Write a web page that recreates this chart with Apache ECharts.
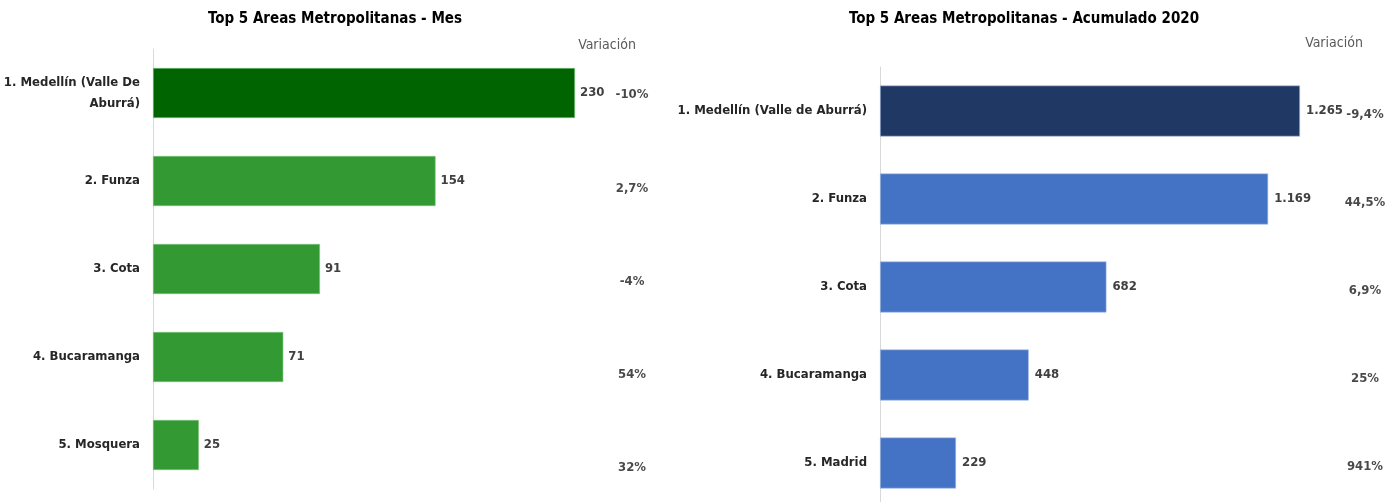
<!DOCTYPE html>
<html>
<head>
<meta charset="utf-8">
<script src="https://cdn.jsdelivr.net/npm/echarts@6/dist/echarts.min.js"></script>
<style>
html,body{margin:0;padding:0;background:#fff;}
#c{width:1400px;height:502px;}
</style>
</head>
<body>
<div id="c"></div>
<script>
const mesCategories = ['1. Medellín (Valle De\nAburrá)', '2. Funza', '3. Cota', '4. Bucaramanga', '5. Mosquera'];
const mesValues = [230, 154, 91, 71, 25];
const mesVariacion = ['-10%', '2,7%', '-4%', '54%', '32%'];

const acumCategories = ['1. Medellín (Valle de Aburrá)', '2. Funza', '3. Cota', '4. Bucaramanga', '5. Madrid'];
const acumValues = [1265, 1169, 682, 448, 229];
const acumVariacion = ['-9,4%', '44,5%', '6,9%', '25%', '941%'];

const FONT = "'Liberation Sans Narrow', 'DejaVu Sans Condensed', 'Roboto', sans-serif";

function fmtThousands(v) {
  return String(v).replace(/\B(?=(\d{3})+(?!\d))/g, '.');
}

const chart = echarts.init(document.getElementById('c'), null, {renderer: 'canvas'});

const catLabel = {
  fontFamily: FONT, fontSize: 13, fontWeight: 'bold', color: '#262626', margin: 13, lineHeight: 21
};

chart.setOption({
  animation: false,
  backgroundColor: '#ffffff',
  textStyle: {fontFamily: FONT},
  graphic: [
    {type: 'text', x: 335, y: 19, style: {text: 'Top 5 Areas Metropolitanas - Mes', font: 'bold 15px ' + FONT, fill: '#000', align: 'center', verticalAlign: 'middle'}},
    {type: 'text', x: 1024, y: 19, style: {text: 'Top 5 Areas Metropolitanas - Acumulado 2020', font: 'bold 15px ' + FONT, fill: '#000', align: 'center', verticalAlign: 'middle'}},
    {type: 'text', x: 607, y: 45, style: {text: 'Variación', font: '14px ' + FONT, fill: '#595959', align: 'center', verticalAlign: 'middle'}},
    {type: 'text', x: 1334, y: 43, style: {text: 'Variación', font: '14px ' + FONT, fill: '#595959', align: 'center', verticalAlign: 'middle'}}
  ],
  grid: [
    {left: 153, top: 49, width: 422, height: 440, outerBoundsMode: 'none', containLabel: false},
    {left: 880, top: 67, width: 420, height: 440, outerBoundsMode: 'none', containLabel: false},
    {left: 612, top: 95, width: 40, height: 373, outerBoundsMode: 'none', containLabel: false},
    {left: 1345, top: 115, width: 40, height: 352, outerBoundsMode: 'none', containLabel: false}
  ],
  xAxis: [
    {type: 'value', gridIndex: 0, min: 0, max: 230, show: false},
    {type: 'value', gridIndex: 1, min: 0, max: 1265, show: false},
    {type: 'value', gridIndex: 2, min: 0, max: 1, show: false},
    {type: 'value', gridIndex: 3, min: 0, max: 1, show: false}
  ],
  yAxis: [
    {type: 'category', gridIndex: 0, inverse: true, data: mesCategories,
     axisLine: {show: true, lineStyle: {color: '#d9d9d9', width: 1}}, axisTick: {show: false},
     axisLabel: catLabel},
    {type: 'category', gridIndex: 1, inverse: true, data: acumCategories,
     axisLine: {show: true, lineStyle: {color: '#d9d9d9', width: 1}}, axisTick: {show: false},
     axisLabel: catLabel},
    {type: 'category', gridIndex: 2, inverse: true, boundaryGap: false, data: mesVariacion, show: false},
    {type: 'category', gridIndex: 3, inverse: true, boundaryGap: false, data: acumVariacion, show: false}
  ],
  series: [
    {type: 'bar', xAxisIndex: 0, yAxisIndex: 0, barWidth: 50,
     data: mesValues.map((v, i) => ({value: v, itemStyle: {color: i === 0 ? '#006400' : '#339933'}})),
     itemStyle: {borderColor: '#7fc47f', borderWidth: 0.6},
     label: {show: true, position: 'right', distance: 5, fontFamily: FONT, fontSize: 13, fontWeight: 'bold', color: '#404040',
             formatter: p => fmtThousands(p.value)}},
    {type: 'bar', xAxisIndex: 1, yAxisIndex: 1, barWidth: 51,
     data: acumValues.map((v, i) => ({value: v, itemStyle: {color: i === 0 ? '#203864' : '#4472C4'}})),
     itemStyle: {borderColor: '#a9bfe6', borderWidth: 0.6},
     label: {show: true, position: 'right', distance: 6, fontFamily: FONT, fontSize: 13, fontWeight: 'bold', color: '#404040',
             formatter: p => fmtThousands(p.value)}},
    {type: 'scatter', xAxisIndex: 2, yAxisIndex: 2, symbolSize: 0,
     data: mesVariacion.map((t, i) => [0.5, i]),
     label: {show: true, position: 'inside', fontFamily: FONT, fontSize: 13, fontWeight: 'bold', color: '#1a1a1a',
             formatter: p => mesVariacion[p.dataIndex]}},
    {type: 'scatter', xAxisIndex: 3, yAxisIndex: 3, symbolSize: 0,
     data: acumVariacion.map((t, i) => [0.5, i]),
     label: {show: true, position: 'inside', fontFamily: FONT, fontSize: 13, fontWeight: 'bold', color: '#1a1a1a',
             formatter: p => acumVariacion[p.dataIndex]}}
  ]
});
</script>
</body>
</html>
